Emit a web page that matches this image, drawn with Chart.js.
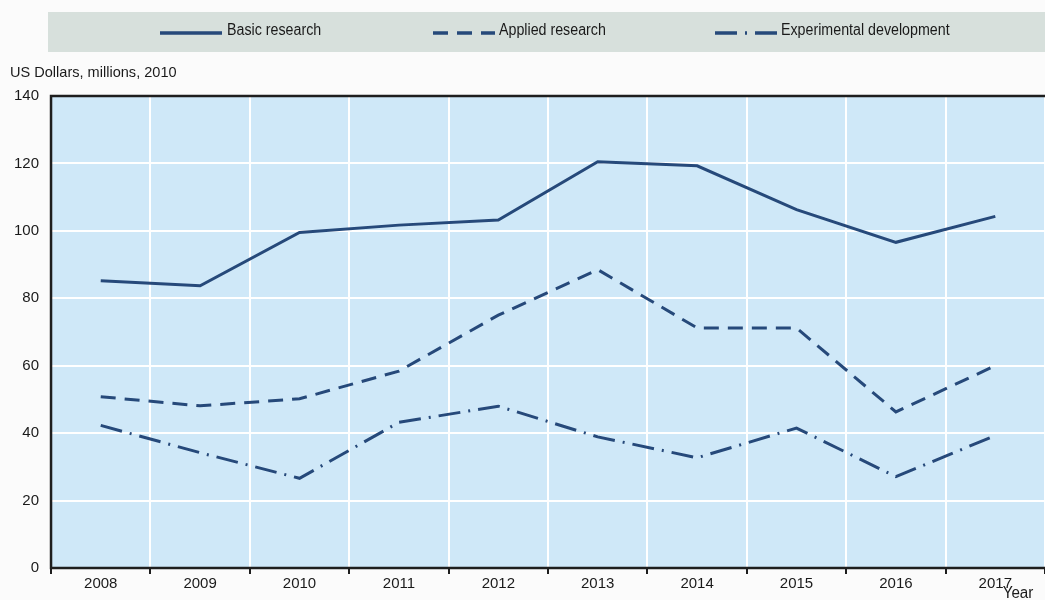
<!DOCTYPE html>
<html><head><meta charset="utf-8">
<script src="https://cdn.jsdelivr.net/npm/chart.js@4"></script>
<style>html,body{margin:0;padding:0;background:#fbfbfb;}#wrap{width:1045px;height:600px;position:relative;}</style>
</head><body><div id="wrap"><canvas id="c" width="1045" height="600"></canvas></div>
<script>
const categories = ['2008','2009','2010','2011','2012','2013','2014','2015','2016','2017'];
const basicResearch = [85.2, 83.7, 99.5, 101.7, 103.2, 120.5, 119.3, 106.3, 96.6, 104.3];
const appliedResearch = [50.8, 48.1, 50.2, 58.4, 75.0, 88.5, 71.2, 71.2, 46.3, 60.0];
const experimentalDevelopment = [42.3, 34.2, 26.6, 43.2, 48.0, 38.9, 32.7, 41.5, 27.1, 39.3];
const seriesNames = ['Basic research', 'Applied research', 'Experimental development'];
const yTicks = [0, 20, 40, 60, 80, 100, 120, 140];
const yAxisLabel = 'US Dollars, millions, 2010';
const xAxisLabel = 'Year';

const LINE = '#26497a';
const FONT = "'Liberation Sans Narrow', 'Liberation Sans', Arial, sans-serif";
const dashes = [[], [15, 9], [22, 8, 2, 8]];

function squeezed(ctx, text, x, y, sx) {
  ctx.save();
  ctx.translate(x, y);
  ctx.scale(sx, 1);
  ctx.fillText(text, 0, 0);
  ctx.restore();
}

const decor = {
  id: 'decor',
  beforeDraw(chart) {
    const {ctx, chartArea: a} = chart;
    ctx.save();
    ctx.fillStyle = '#fbfbfb';
    ctx.fillRect(0, 0, chart.width, chart.height);
    ctx.fillStyle = '#d7e0dc';
    ctx.fillRect(48, 12, 997, 40);
    ctx.fillStyle = '#cfe8f8';
    ctx.fillRect(a.left, a.top, a.right - a.left, a.bottom - a.top);
    ctx.restore();
  },
  afterDraw(chart) {
    const {ctx, chartArea: a} = chart;
    ctx.save();
    ctx.strokeStyle = '#1e1e1e';
    ctx.lineWidth = 2.5;
    ctx.beginPath();
    ctx.moveTo(a.right, a.top); ctx.lineTo(a.left, a.top); ctx.lineTo(a.left, a.bottom); ctx.lineTo(a.right, a.bottom);
    ctx.stroke();
    const items = [{x:160, tx:227}, {x:433, tx:499}, {x:715, tx:781}];
    ctx.font = '16px ' + FONT;
    ctx.textBaseline = 'middle';
    ctx.textAlign = 'left';
    items.forEach((it, i) => {
      const ds = chart.data.datasets[i];
      ctx.strokeStyle = ds.borderColor;
      ctx.lineWidth = 3.5;
      ctx.setLineDash(ds.borderDash || []);
      ctx.beginPath(); ctx.moveTo(it.x, 33); ctx.lineTo(it.x + 62, 33); ctx.stroke();
      ctx.setLineDash([]);
      ctx.fillStyle = '#1a1a1a';
      squeezed(ctx, ds.label, it.tx, 31, 0.89);
    });
    ctx.font = '15px ' + FONT;
    squeezed(ctx, yAxisLabel, 10, 73, 0.97);
    ctx.font = '16px ' + FONT;
    ctx.textAlign = 'center';
    squeezed(ctx, xAxisLabel, 1018, 594, 0.95);
    ctx.restore();
  }
};

const datasets = [basicResearch, appliedResearch, experimentalDevelopment].map((d, i) => ({
  label: seriesNames[i],
  data: d,
  borderColor: LINE,
  backgroundColor: LINE,
  borderWidth: 3,
  borderDash: dashes[i],
  pointRadius: 0,
  tension: 0,
  fill: false
}));

new Chart(document.getElementById('c'), {
  type: 'line',
  data: { labels: categories, datasets },
  options: {
    responsive: false,
    animation: false,
    devicePixelRatio: 1,
    layout: { padding: { top: 96, left: 2, right: 0, bottom: 6 } },
    plugins: { legend: { display: false }, tooltip: { enabled: false } },
    scales: {
      x: {
        offset: true,
        grid: { offset: true, color: '#ffffff', lineWidth: 2, tickColor: '#1e1e1e', tickLength: 6, tickWidth: 2, drawTicks: true },
        border: { display: false },
        ticks: { color: '#1a1a1a', font: { family: FONT, size: 15 }, padding: 1, maxRotation: 0 }
      },
      y: {
        min: 0, max: 140,
        afterBuildTicks(scale) { scale.ticks = yTicks.map(v => ({ value: v })); },
        grid: { color: '#ffffff', lineWidth: 2, drawTicks: false },
        border: { display: false },
        ticks: { color: '#1a1a1a', font: { family: FONT, size: 15 }, padding: 12 }
      }
    }
  },
  plugins: [decor]
});
</script></body></html>
